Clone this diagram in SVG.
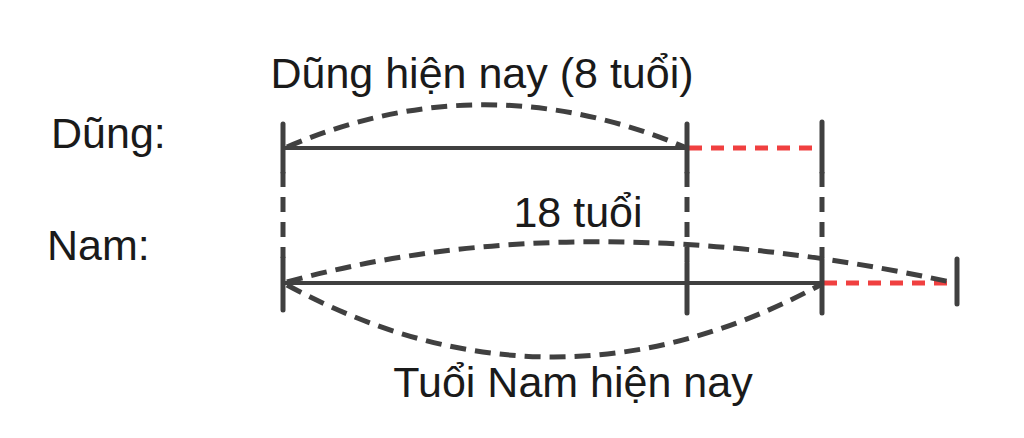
<svg xmlns="http://www.w3.org/2000/svg" width="1024" height="438" viewBox="0 0 1024 438">
<style>
text{font-family:"Liberation Sans",Arial,sans-serif;font-size:43px;fill:#1a1a1a}
.solid{stroke:#404040;stroke-width:4;fill:none}
.tick{stroke:#404040;stroke-width:5;fill:none;stroke-linecap:round}
.dash{stroke:#404040;stroke-width:5;fill:none;stroke-dasharray:16 9}
.vdash{stroke:#404040;stroke-width:5;fill:none;stroke-dasharray:15 10}
.red{stroke:#f04040;stroke-width:5;fill:none;stroke-dasharray:13 9}
</style>
<rect width="1024" height="438" fill="#ffffff"/>
<g id="labels">
<text x="482" y="88" text-anchor="middle">Dũng hiện nay (8 tuổi)</text>
<text x="51" y="148">Dũng:</text>
<text x="47" y="260">Nam:</text>
<text x="578" y="227" text-anchor="middle">18 tuổi</text>
<text x="573" y="397" text-anchor="middle">Tuổi Nam hiện nay</text>
</g>
<g id="connectors">
<line class="vdash" x1="283" y1="172" x2="283" y2="258"/>
<line class="vdash" x1="687" y1="172" x2="687" y2="262"/>
<line class="vdash" x1="822" y1="172" x2="822" y2="258"/>
<line class="solid" x1="283" y1="148" x2="687" y2="148"/>
<line class="red" x1="689" y1="148" x2="822" y2="148"/>
<line class="solid" x1="283" y1="283" x2="822" y2="283"/>
<line class="red" x1="824" y1="283" x2="957" y2="283"/>
<path class="dash" d="M287 147 Q485 62 687 148"/>
<path class="dash" d="M287 282 Q580 201 955 283"/>
<path class="dash" d="M287 285 Q553 429 820 285"/>
</g>
<g id="ticks">
<line class="tick" x1="283" y1="124" x2="283" y2="172"/>
<line class="tick" x1="687" y1="124" x2="687" y2="172"/>
<line class="tick" x1="822" y1="122" x2="822" y2="172"/>
<line class="tick" x1="283" y1="258" x2="283" y2="310"/>
<line class="tick" x1="687" y1="263" x2="687" y2="313"/>
<line class="tick" x1="822" y1="259" x2="822" y2="313"/>
<line class="tick" x1="957" y1="259" x2="957" y2="304"/>
</g>
</svg>
